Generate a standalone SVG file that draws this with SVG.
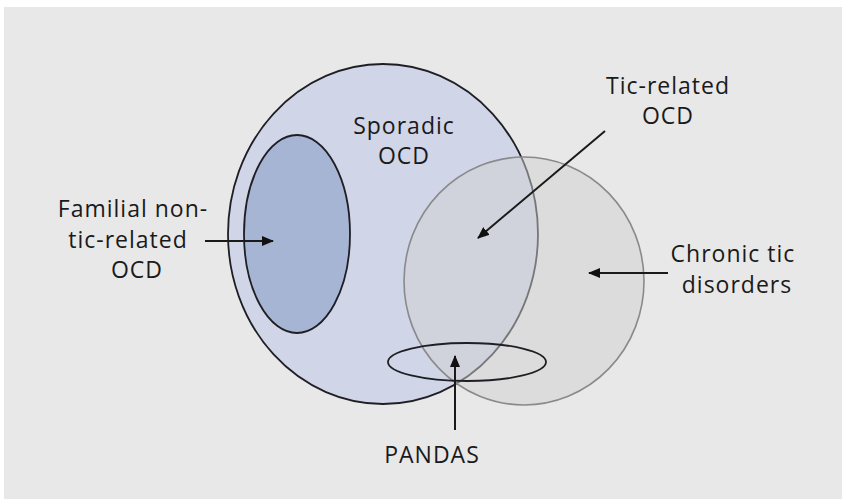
<svg xmlns="http://www.w3.org/2000/svg" width="842" height="499" viewBox="0 0 842 499">
<defs>
<marker id="ah" viewBox="0 0 12 10" refX="11" refY="5" markerWidth="12" markerHeight="10" markerUnits="userSpaceOnUse" orient="auto">
<path d="M0,0 L12,5 L0,10 z" fill="#111"/>
</marker>
<style>
text{font-family:"Open Sans","Noto Sans",sans-serif;font-size:23px;letter-spacing:1px;fill:#1a1a1a;text-anchor:middle}
.arrow{stroke:#1a1a1a;stroke-width:2;fill:none;marker-end:url(#ah)}
</style>
</defs>
<rect x="0" y="0" width="842" height="499" fill="#ffffff"/>
<rect x="4" y="7" width="838" height="492" fill="#e8e8e8"/>
<g id="sporadic">
<ellipse cx="383" cy="234" rx="155" ry="170" fill="#d0d5e8" stroke="#1e1e24" stroke-width="1.8"/>
<text x="404" y="134">Sporadic</text>
<text x="404" y="164">OCD</text>
</g>
<g id="familial">
<ellipse cx="297" cy="234" rx="53" ry="99" fill="#a7b5d5" stroke="#1e1e24" stroke-width="1.8"/>
<text x="133" y="217">Familial non-</text>
<text x="128" y="248">tic-related</text>
<text x="137" y="278">OCD</text>
</g>
<g id="chronic">
<ellipse cx="524" cy="281" rx="120" ry="124" fill="#cfcfcf" fill-opacity="0.5" stroke="#8a8a8a" stroke-width="1.6"/>
<text x="733" y="262">Chronic tic</text>
<text x="737" y="293">disorders</text>
</g>
<g id="ticrelated">
<text x="668" y="94">Tic-related</text>
<text x="668" y="124">OCD</text>
</g>
<g id="pandas">
<ellipse cx="467" cy="362" rx="79" ry="19" fill="none" stroke="#1e1e24" stroke-width="1.8"/>
<text x="432" y="463">PANDAS</text>
</g>
<g id="connectors">
<line class="arrow" x1="205" y1="241" x2="273" y2="241"/>
<line class="arrow" x1="605" y1="131" x2="478" y2="238"/>
<line class="arrow" x1="668" y1="273" x2="589" y2="273"/>
<line class="arrow" x1="455" y1="430" x2="455" y2="356"/>
</g>
</svg>
